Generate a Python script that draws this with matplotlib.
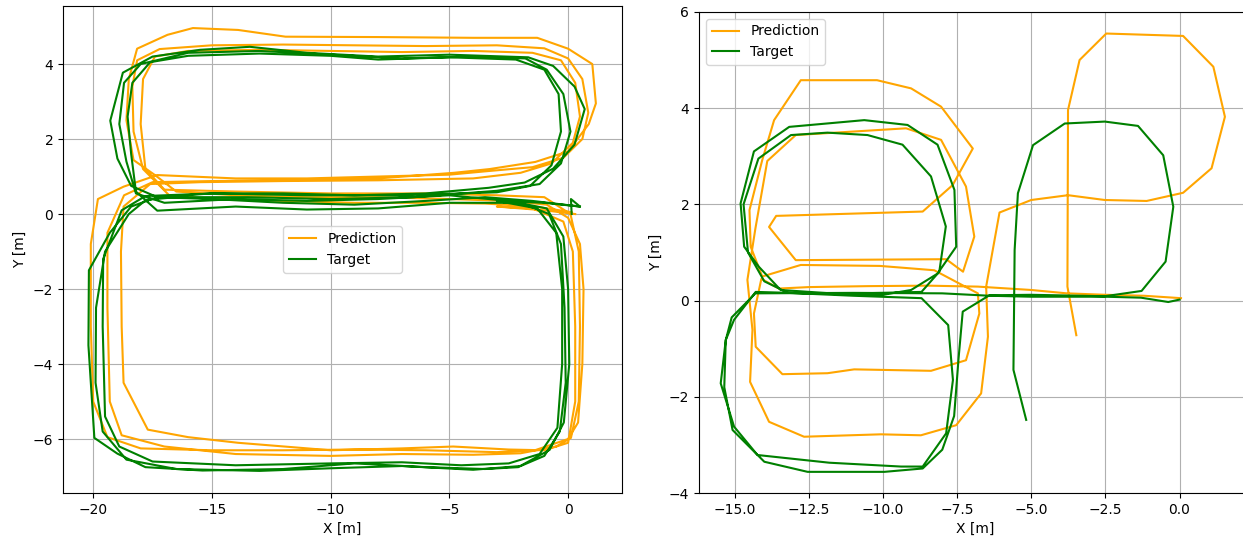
import numpy as np
import matplotlib
matplotlib.use('Agg')
import matplotlib.pyplot as plt

# ---- left run: figure-8 course, three laps each (x, y) in metres ----
left_pred_lap1 = [
    (0.15, 0.05), (-1.4, 0.2), (-3.5, 0.28), (-6.0, 0.3), (-9.0, 0.3), (-12.0, 0.35), (-15.0, 0.4),
    (-16.8, 0.5), (-17.9, 1.2), (-18.3, 2.2), (-18.35, 3.4), (-18.15, 4.1), (-17.2, 4.4), (-15.0, 4.5),
    (-12.0, 4.52), (-9.0, 4.5), (-6.0, 4.48), (-3.0, 4.5), (-1.0, 4.42), (0.0, 4.15), (0.6, 3.6),
    (0.85, 2.7), (0.6, 2.0), (-0.2, 1.5), (-1.5, 1.25), (-3.3, 1.15), (-5.0, 1.05), (-8.0, 1.0),
    (-11.0, 0.95), (-14.0, 0.95), (-17.3, 1.04), (-18.72, 0.73), (-19.8, 0.4), (-20.1, -0.8),
    (-20.1, -3.0), (-20.0, -5.0), (-19.4, -5.95), (-18.0, -6.25), (-15.0, -6.3), (-12.0, -6.3),
    (-9.0, -6.28), (-6.0, -6.3), (-3.0, -6.35), (-1.4, -6.3), (0.0, -6.0), (0.42, -5.56), (0.6, -4.0),
    (0.65, -2.0), (0.5, -0.8), (0.0, -0.1), (-0.9, 0.25), (-2.5, 0.35),
]
left_pred_lap2 = [
    (-5.0, 0.4), (-8.0, 0.45), (-11.0, 0.45), (-14.0, 0.5), (-16.5, 0.6), (-17.4, 1.04), (-18.3, 1.44),
    (-18.6, 2.5), (-18.5, 3.6), (-18.15, 4.41), (-16.87, 4.78), (-15.8, 4.96), (-13.9, 4.91), (-11.9, 4.73),
    (-8.0, 4.72), (-4.0, 4.7), (-1.3, 4.7), (0.0, 4.41), (1.02, 4.0), (1.17, 2.95), (0.87, 2.4),
    (0.0, 1.67), (-1.38, 1.39), (-3.3, 1.2), (-4.8, 1.1), (-8.0, 0.95), (-12.0, 0.9), (-15.0, 0.88),
    (-17.5, 0.85), (-18.7, 0.5), (-19.4, -0.5), (-19.4, -2.5), (-19.3, -5.0), (-18.8, -5.9), (-17.0, -6.2),
    (-14.0, -6.4), (-10.0, -6.45), (-7.0, -6.4), (-4.0, -6.42), (-2.0, -6.38), (-0.5, -6.2), (0.12, -5.97),
    (0.45, -5.0), (0.5, -3.0), (0.45, -1.0), (0.1, 0.0), (-1.0, 0.45),
]
left_pred_lap3 = [
    (-3.0, 0.5), (-6.0, 0.55), (-10.0, 0.55), (-14.0, 0.6), (-17.0, 0.65), (-17.8, 1.2), (-18.0, 2.4),
    (-17.9, 3.6), (-17.4, 4.2), (-16.0, 4.35), (-13.0, 4.38), (-10.0, 4.35), (-7.0, 4.32), (-4.0, 4.35),
    (-1.5, 4.3), (-0.3, 4.1), (0.3, 3.5), (0.5, 2.6), (0.2, 1.9), (-0.7, 1.35), (-2.0, 1.1), (-4.0, 0.95),
    (-8.0, 0.9), (-12.0, 0.88), (-15.5, 0.85), (-17.6, 0.8), (-18.72, 0.2), (-18.83, -1.0), (-18.8, -3.0),
    (-18.72, -4.5), (-17.7, -5.75), (-16.0, -5.95), (-13.9, -6.1), (-10.0, -6.3), (-7.0, -6.25),
    (-4.84, -6.2), (-2.5, -6.28), (-1.0, -6.3), (0.0, -6.1), (0.3, -5.0), (0.3, -3.0), (0.2, -1.0),
    (-0.2, -0.2), (-1.5, 0.15), (-3.0, 0.2), (-1.0, 0.1), (0.3, 0.0),
]
left_target_lap1 = [
    (0.5, 0.2), (-1.5, 0.35), (-3.5, 0.45), (-6.0, 0.35), (-9.0, 0.25), (-12.0, 0.3), (-15.0, 0.4),
    (-17.3, 0.45), (-18.4, 0.75), (-18.98, 1.48), (-19.28, 2.49), (-18.75, 3.77), (-17.5, 4.2),
    (-15.5, 4.38), (-13.4, 4.46), (-11.0, 4.3), (-8.0, 4.2), (-5.0, 4.25), (-1.68, 4.18), (-0.63, 3.95),
    (0.27, 3.4), (0.7, 2.8), (0.27, 1.85), (-0.63, 1.21), (-1.83, 0.84), (-3.34, 0.7), (-6.0, 0.55),
    (-9.0, 0.5), (-12.0, 0.55), (-15.0, 0.55), (-17.3, 0.45), (-18.4, 0.2), (-19.3, -0.5), (-20.18, -1.5),
    (-20.2, -3.5), (-19.95, -5.97), (-18.98, -6.39), (-17.8, -6.75), (-15.4, -6.84), (-12.0, -6.8),
    (-9.0, -6.65), (-6.0, -6.75), (-3.5, -6.8), (-2.1, -6.75), (-0.78, -6.29), (-0.18, -5.56),
    (0.05, -4.0), (0.0, -2.0), (-0.2, -0.6), (-0.9, 0.15), (-2.5, 0.35),
]
left_target_lap2 = [
    (-5.0, 0.5), (-8.0, 0.4), (-11.0, 0.35), (-14.0, 0.4), (-17.0, 0.3), (-18.2, 0.55), (-18.6, 1.4),
    (-18.9, 2.4), (-18.7, 3.5), (-18.0, 4.0), (-16.0, 4.3), (-13.0, 4.35), (-10.0, 4.25), (-7.0, 4.15),
    (-4.0, 4.2), (-1.8, 4.15), (-0.9, 3.85), (-0.2, 3.2), (0.1, 2.2), (-0.3, 1.35), (-1.2, 0.8),
    (-3.0, 0.62), (-6.5, 0.45), (-10.0, 0.4), (-13.5, 0.45), (-16.5, 0.45), (-17.77, 0.38), (-18.5, 0.0),
    (-19.5, -1.0), (-19.88, -2.5), (-19.9, -4.5), (-19.6, -5.8), (-18.6, -6.55), (-16.5, -6.8),
    (-13.0, -6.85), (-10.0, -6.78), (-7.0, -6.72), (-4.0, -6.82), (-2.0, -6.72), (-1.0, -6.45),
    (-0.35, -5.8), (-0.1, -4.5), (-0.15, -2.5), (-0.3, -0.8), (-0.8, 0.0), (-2.0, 0.3),
]
left_target_lap3 = [
    (-5.0, 0.3), (-8.0, 0.15), (-11.0, 0.12), (-14.0, 0.2), (-17.3, 0.09), (-18.2, 0.6), (-18.4, 1.6),
    (-18.55, 2.6), (-18.35, 3.5), (-17.6, 4.05), (-16.0, 4.22), (-13.0, 4.28), (-10.0, 4.22), (-8.0, 4.12),
    (-5.0, 4.18), (-2.2, 4.12), (-1.0, 3.85), (-0.4, 3.2), (-0.3, 2.2), (-0.7, 1.3), (-1.6, 0.75),
    (-3.0, 0.58), (-7.0, 0.5), (-11.0, 0.5), (-15.0, 0.55), (-17.8, 0.48), (-18.8, 0.1), (-19.58, -1.2),
    (-19.6, -3.0), (-19.5, -5.4), (-18.9, -6.2), (-17.5, -6.6), (-14.0, -6.7), (-10.0, -6.65),
    (-7.0, -6.62), (-4.5, -6.7), (-2.5, -6.65), (-1.2, -6.4), (-0.45, -5.7), (-0.25, -4.0), (-0.25, -2.0),
    (-0.5, -0.5), (-1.3, 0.15), (-3.0, 0.35), (-1.0, 0.3), (0.5, 0.2), (0.12, 0.4), (0.15, 0.0),
]

# ---- right run: four irregular loops ----
right_pred = [
    (0.05, 0.05), (-1.2, 0.1), (-2.5, 0.12), (-3.8, 0.15), (-5.0, 0.22), (-6.8, 0.29), (-8.5, 0.31),
    (-10.5, 0.3), (-12.5, 0.28), (-13.5, 0.25), (-14.1, 0.45), (-14.35, -0.27), (-14.29, -0.96),
    (-13.39, -1.53), (-11.87, -1.51), (-10.97, -1.43), (-8.38, -1.46), (-7.2, -1.24), (-6.75, -0.27),
    (-6.8, 0.15), (-8.27, 0.63), (-10.1, 0.72), (-12.77, 0.74), (-14.07, 0.5), (-14.46, 1.12),
    (-14.5, 1.88), (-14.07, 2.92), (-13.67, 3.75), (-12.77, 4.58), (-10.2, 4.58), (-9.05, 4.41),
    (-8.04, 4.03), (-6.97, 3.16), (-7.65, 2.4), (-8.66, 1.85), (-13.6, 1.76), (-13.84, 1.53),
    (-12.94, 0.84), (-7.87, 0.86), (-7.3, 0.6), (-6.92, 1.33), (-7.2, 2.37), (-8.04, 3.34), (-9.22, 3.58),
    (-12.94, 3.44), (-13.9, 2.9), (-14.3, 1.5), (-14.57, 0.43), (-14.4, -0.61), (-14.48, -1.69),
    (-13.84, -2.52), (-12.66, -2.83), (-10.07, -2.78), (-8.72, -2.8), (-7.53, -2.59), (-6.69, -1.93),
    (-6.46, -0.75), (-6.52, 0.29), (-6.07, 1.83), (-5.0, 2.09), (-3.76, 2.19), (-2.52, 2.09),
    (-1.11, 2.07), (0.12, 2.24), (1.08, 2.75), (1.53, 3.82), (1.14, 4.86), (0.12, 5.5), (-2.47, 5.55),
    (-3.37, 5.0), (-3.76, 3.96), (-3.78, 0.29), (-3.48, -0.72),
]
right_target = [
    (-5.17, -2.48), (-5.6, -1.44), (-5.56, 1.05), (-5.45, 2.23), (-4.94, 3.23), (-3.87, 3.68),
    (-2.52, 3.72), (-1.4, 3.63), (-0.55, 3.02), (-0.21, 1.95), (-0.47, 0.81), (-1.28, 0.2), (-2.52, 0.09),
    (-5.0, 0.12), (-6.41, 0.11), (-7.31, -0.23), (-7.45, -1.2), (-7.6, -2.4), (-8.0, -3.1), (-8.66, -3.49),
    (-9.95, -3.56), (-12.54, -3.56), (-14.0, -3.35), (-15.07, -2.69), (-15.35, -1.8), (-15.3, -0.82),
    (-15.02, -0.4), (-14.29, 0.18), (-12.0, 0.14), (-10.0, 0.12), (-9.05, 0.22), (-8.16, 0.56),
    (-7.53, 1.12), (-7.59, 2.3), (-8.16, 3.24), (-9.17, 3.65), (-10.63, 3.75), (-13.16, 3.61),
    (-14.35, 3.1), (-14.8, 2.02), (-14.68, 1.12), (-14.18, 0.7), (-13.45, 0.22), (-11.5, 0.14),
    (-8.7, 0.18), (-8.1, 0.6), (-7.88, 1.54), (-8.38, 2.58), (-9.34, 3.24), (-10.52, 3.44), (-11.87, 3.49),
    (-13.1, 3.44), (-14.2, 2.95), (-14.7, 2.0), (-14.55, 1.0), (-14.0, 0.4), (-13.2, 0.16), (-11.0, 0.1),
    (-8.7, 0.05), (-7.8, -0.51), (-7.64, -1.65), (-7.87, -2.76), (-8.66, -3.45), (-9.39, -3.45),
    (-11.81, -3.37), (-14.23, -3.21), (-15.02, -2.62), (-15.47, -1.72), (-15.3, -0.82), (-15.1, -0.35),
    (-14.3, 0.15), (-11.0, 0.16), (-8.0, 0.15), (-6.41, 0.1), (-5.0, 0.08), (-2.5, 0.08), (-1.3, 0.06),
    (-0.38, -0.03), (0.0, 0.02),
]

PRED_COLOR = 'orange'
TARGET_COLOR = 'green'

left_pred = np.array(left_pred_lap1 + left_pred_lap2 + left_pred_lap3)
left_target = np.array(left_target_lap1 + left_target_lap2 + left_target_lap3)
right_pred = np.array(right_pred)
right_target = np.array(right_target)

fig = plt.figure(figsize=(12.43, 5.4), dpi=100)

# Left plot
ax1 = fig.add_axes([0.0507, 0.087, 0.4497, 0.902])
ax1.plot(left_pred[:, 0], left_pred[:, 1], color=PRED_COLOR, lw=1.5, label='Prediction')
ax1.plot(left_target[:, 0], left_target[:, 1], color=TARGET_COLOR, lw=1.5, label='Target')
ax1.set_xlim(-21.27, 2.27)
ax1.set_ylim(-7.44, 5.55)
ax1.set_xlabel('X [m]')
ax1.set_ylabel('Y [m]')
ax1.grid(True)
ax1.legend(loc='center')

# Right plot
ax2 = fig.add_axes([0.5624, 0.087, 0.445, 0.891])
ax2.plot(right_pred[:, 0], right_pred[:, 1], color=PRED_COLOR, lw=1.5, label='Prediction')
ax2.plot(right_target[:, 0], right_target[:, 1], color=TARGET_COLOR, lw=1.5, label='Target')
ax2.set_xlim(-16.2, 2.45)
ax2.set_ylim(-4, 6)
ax2.set_xlabel('X [m]')
ax2.set_ylabel('Y [m]')
ax2.grid(True)
ax2.legend(loc='upper left')

plt.savefig('out.png', dpi=100)
